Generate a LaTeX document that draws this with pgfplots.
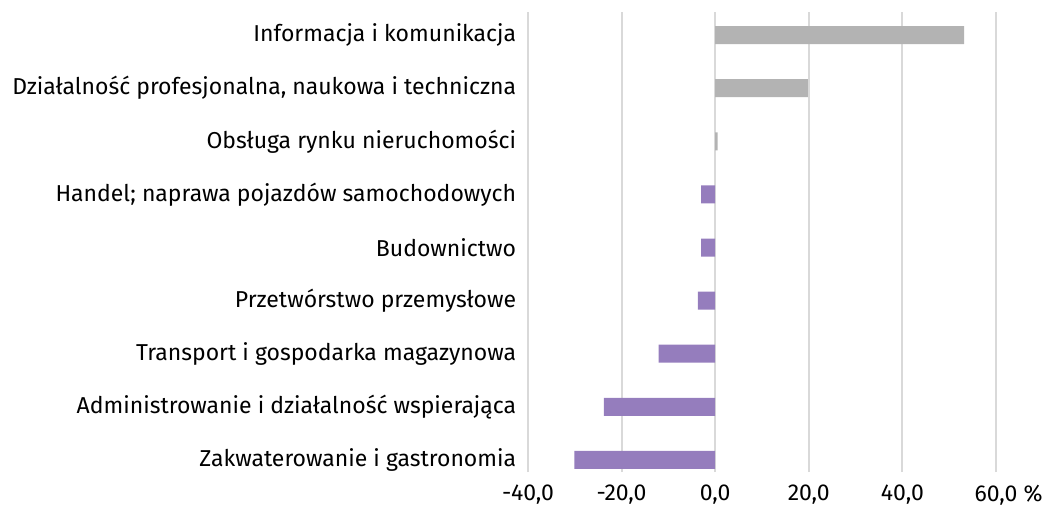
\documentclass[border=0pt]{standalone}
\usepackage{pgfplots}
\pgfplotsset{compat=1.18}
\usepackage{fontspec}
\setmainfont{Fira Sans}
\definecolor{barGray}{RGB}{179,179,179}
\definecolor{barPurple}{RGB}{149,125,189}
\definecolor{gridGray}{RGB}{217,217,217}
\begin{document}
\fontsize{23}{27}\selectfont
\begin{tikzpicture}[x=1pt,y=1pt]
\begin{axis}[
  scale only axis,
  width=468pt, height=460pt,
  xbar, bar width=18pt,
  xmin=-40, xmax=60,
  ymin=-0.226, ymax=8.433,
  axis line style={draw=none},
  xtick={-40,-20,0,20,40,60},
  xticklabels={{-40,0},{-20,0},{0,0},{20,0},{40,0},{60,0\rlap{ \%}}},
  ytick={0,...,8},
  yticklabels={Zakwaterowanie i gastronomia,Administrowanie i działalność wspierająca,Transport i gospodarka magazynowa,Przetwórstwo przemysłowe,Budownictwo,Handel; naprawa pojazdów samochodowych,Obsługa rynku nieruchomości,{Działalność profesjonalna, naukowa i techniczna},Informacja i komunikacja},
  xmajorgrids, grid style={gridGray, line width=2pt},
  major tick length=0pt,
  tick label style={font=\fontsize{23}{27}\selectfont, text=black},
  yticklabel style={xshift=-4pt},
  xticklabel style={yshift=-5pt},
  /pgf/number format/assume math mode=true,
]
\addplot[draw=none, fill=barGray, bar shift=0pt] coordinates {(53.2,8) (19.8,7) (0.5,6)};
\addplot[draw=none, fill=barPurple, bar shift=0pt] coordinates {(-3.0,5) (-3.0,4) (-3.7,3) (-12.1,2) (-23.8,1) (-30.1,0)};
\end{axis}
\path (current axis.south west) ++(-528pt,-36pt) rectangle ++(1046pt,508pt);
\end{tikzpicture}
\end{document}
